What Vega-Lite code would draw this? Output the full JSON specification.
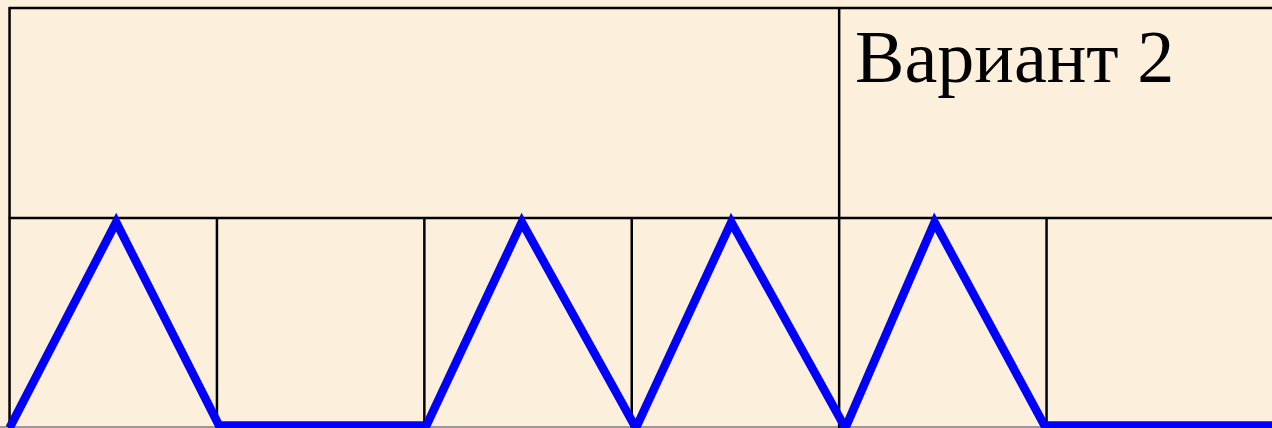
{
  "$schema": "https://vega.github.io/schema/vega-lite/v6.json",
  "autosize": {"type": "fit", "contains": "padding"},
  "width": 1272,
  "height": 428,
  "padding": 0,
  "background": "#FCF0DC",
  "config": {"view": {"stroke": null}},
  "datasets": {
    "grid": [
      {"x": -0.004, "x2": 6.2, "y": 2, "y2": 2, "kind": "h"},
      {"x": -0.004, "x2": 6.2, "y": 1, "y2": 1, "kind": "h"},
      {"x": 0, "x2": 0, "y": 0, "y2": 2.004, "kind": "v"},
      {"x": 4, "x2": 4, "y": 0, "y2": 2, "kind": "v"},
      {"x": 1, "x2": 1, "y": 0, "y2": 1, "kind": "v"},
      {"x": 2, "x2": 2, "y": 0, "y2": 1, "kind": "v"},
      {"x": 3, "x2": 3, "y": 0, "y2": 1, "kind": "v"},
      {"x": 5, "x2": 5, "y": 0, "y2": 1, "kind": "v"}
    ],
    "signal": [
      {"i": 0, "t": 0.0, "level": 0.0},
      {"i": 1, "t": 0.514, "level": 0.98},
      {"i": 2, "t": 1.01, "level": 0.012},
      {"i": 3, "t": 2.01, "level": 0.012},
      {"i": 4, "t": 2.47, "level": 0.98},
      {"i": 5, "t": 3.02, "level": 0.0},
      {"i": 6, "t": 3.48, "level": 0.98},
      {"i": 7, "t": 4.03, "level": 0.0},
      {"i": 8, "t": 4.46, "level": 0.98},
      {"i": 9, "t": 4.99, "level": 0.012},
      {"i": 10, "t": 6.2, "level": 0.012}
    ],
    "labels": [
      {"t": 4.077, "level": 1.648, "text": "Вариант 2"}
    ]
  },
  "layer": [
    {
      "data": {"values": [{"x": -0.1, "x2": 6.2, "y": 0.005}]},
      "mark": {"type": "rule", "color": "#9a9a9a", "strokeWidth": 2, "clip": true},
      "encoding": {
        "x": {"field": "x", "type": "quantitative", "scale": {"domain": [-0.046, 6.087], "nice": false, "zero": false}, "axis": null},
        "x2": {"field": "x2"},
        "y": {"field": "y", "type": "quantitative", "scale": {"domain": [0, 2.038], "nice": false, "zero": false}, "axis": null}
      }
    },
    {
      "data": {"name": "grid"},
      "mark": {"type": "rule", "color": "#000000", "strokeWidth": 2.5, "clip": true},
      "encoding": {
        "x": {"field": "x", "type": "quantitative", "axis": null},
        "x2": {"field": "x2"},
        "y": {"field": "y", "type": "quantitative", "axis": null},
        "y2": {"field": "y2"}
      }
    },
    {
      "data": {"name": "signal"},
      "mark": {"type": "line", "color": "#0000FF", "strokeWidth": 8.5, "strokeJoin": "miter", "clip": true},
      "encoding": {
        "x": {"field": "t", "type": "quantitative", "axis": null},
        "y": {"field": "level", "type": "quantitative", "axis": null},
        "order": {"field": "i", "type": "quantitative"}
      }
    },
    {
      "data": {"name": "labels"},
      "mark": {"type": "text", "align": "left", "baseline": "alphabetic", "font": "Liberation Serif", "fontSize": 74, "color": "#000000", "clip": true},
      "encoding": {
        "x": {"field": "t", "type": "quantitative", "axis": null},
        "y": {"field": "level", "type": "quantitative", "axis": null},
        "text": {"field": "text"}
      }
    }
  ]
}
